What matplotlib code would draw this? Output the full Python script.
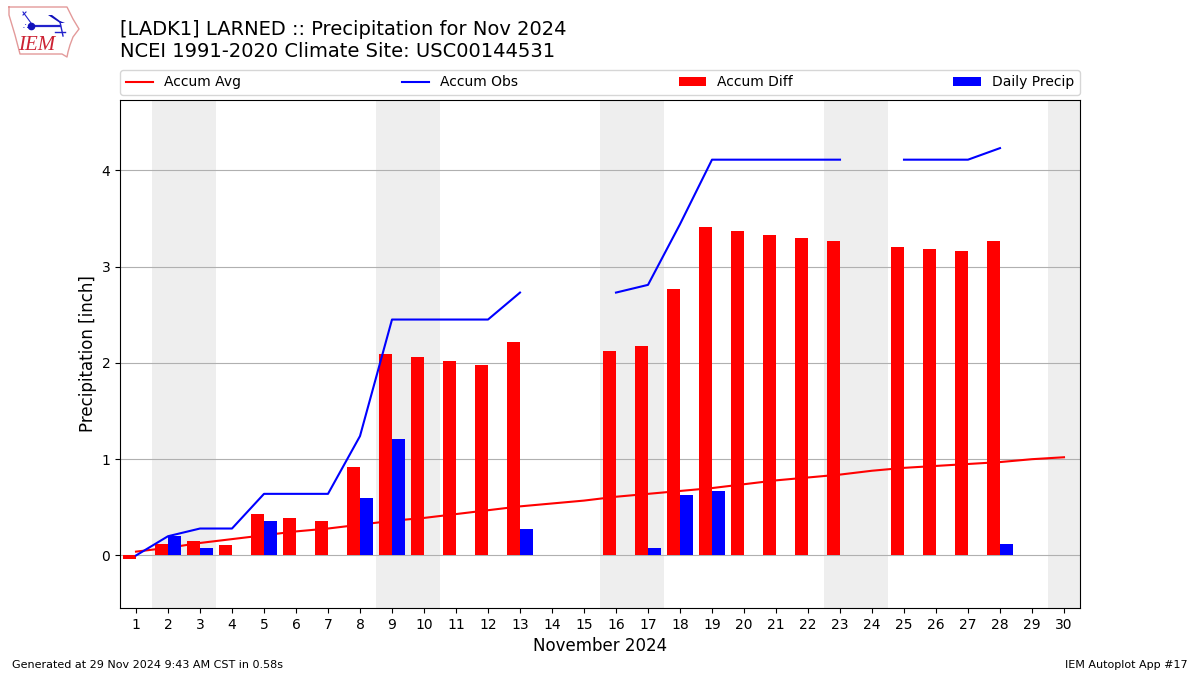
import matplotlib
matplotlib.use('Agg')
import matplotlib.pyplot as plt
import numpy as np

nan = np.nan
days = list(range(1, 31))
accum_avg = [0.04, 0.08, 0.13, 0.17, 0.21, 0.25, 0.28, 0.32, 0.36, 0.39,
             0.43, 0.47, 0.51, 0.54, 0.57, 0.61, 0.64, 0.67, 0.70, 0.74,
             0.78, 0.81, 0.84, 0.88, 0.91, 0.93, 0.95, 0.97, 1.00, 1.02]
accum_obs = [0.0, 0.20, 0.28, 0.28, 0.64, 0.64, 0.64, 1.24, 2.45, 2.45,
             2.45, 2.45, 2.73, nan, nan, 2.73, 2.81, 3.44, 4.11, 4.11,
             4.11, 4.11, 4.11, nan, 4.11, 4.11, 4.11, 4.23, nan, nan]
accum_diff = [-0.04, 0.12, 0.15, 0.11, 0.43, 0.39, 0.36, 0.92, 2.09, 2.06,
              2.02, 1.98, 2.22, nan, nan, 2.12, 2.18, 2.77, 3.41, 3.37,
              3.33, 3.30, 3.27, nan, 3.20, 3.18, 3.16, 3.27, nan, nan]
daily = [0, 0.20, 0.08, 0, 0.36, 0, 0, 0.60, 1.21, 0,
         0, 0, 0.28, nan, nan, 0, 0.08, 0.63, 0.67, 0,
         0, 0, 0, nan, 0, 0, 0, 0.12, nan, nan]
weekends = [(1.5, 3.5), (8.5, 10.5), (15.5, 17.5), (22.5, 24.5), (29.5, 30.5)]

# logo outline, in figure pixels
state_x = [9, 67, 73, 79, 73, 70, 68, 67, 62, 20, 15, 9, 9]
state_y = [7, 7, 19, 29, 37, 45, 52, 57, 54, 54, 35, 15, 7]


def add_logo(fig):
    W, H = 1200., 675.
    ax = fig.add_axes([0, 0, 1, 1], zorder=5)
    ax.set_xlim(0, W)
    ax.set_ylim(H, 0)
    ax.axis('off')
    ax.patch.set_alpha(0)
    ax.plot(state_x, state_y, color='#e39a9a', lw=1)
    # station glyph
    ax.plot([31, 60], [26, 26], color='#2222cc', lw=1.6)
    ax.plot([31], [26], 'o', color='#1111bb', ms=4.5)
    ax.plot([60, 63], [22, 36], color='#2222cc', lw=1)
    ax.fill([48, 52, 60, 65, 60], [15, 15, 21, 23, 23], color='#1111bb', lw=0)
    ax.plot([31, 23], [23, 12], color='#2222cc', lw=0.8)
    ax.plot([23, 26], [15, 12], color='#2222cc', lw=0.8)
    ax.text(25, 27, '\u2234', color='#2222cc', fontsize=6, ha='center', va='center')
    ax.plot([55, 65], [32, 32], color='#2222cc', lw=1)
    ax.text(37, 45, 'IEM', color='#cc2233', fontsize=15, style='italic',
            family='Liberation Serif', ha='center', va='center')


fig = plt.figure(figsize=(12, 6.75), dpi=100)
ax = fig.add_axes([0.1, 0.0993, 0.8, 0.7526])

for start, end in weekends:
    ax.axvspan(start, end, color='#eeeeee', lw=0, zorder=0)

x = np.array(days)
ax.plot(x, accum_avg, color='r', lw=1.5, label='Accum Avg', zorder=2)
ax.bar(x - 0.2, accum_diff, width=0.4, color='r', label='Accum Diff', zorder=3)
ax.bar(x + 0.2, daily, width=0.4, color='b', label='Daily Precip', zorder=3)
ax.plot(x, accum_obs, color='b', lw=1.5, label='Accum Obs', zorder=4)

ax.set_xlim(0.5, 30.5)
ax.set_ylim(-0.545, 4.73)
ax.set_xticks(days)
ax.set_yticks([0, 1, 2, 3, 4])
ax.yaxis.grid(True, color='#b0b0b0', lw=0.8)
ax.set_axisbelow(True)
ax.set_xlabel('November 2024', fontsize=12)
ax.set_ylabel('Precipitation [inch]', fontsize=12, labelpad=3)

h, l = ax.get_legend_handles_labels()
order = [l.index(n) for n in ['Accum Avg', 'Accum Obs', 'Accum Diff', 'Daily Precip']]
ax.legend([h[i] for i in order], [l[i] for i in order], ncol=4, mode='expand',
          loc='lower left', bbox_to_anchor=(0, 1.0098, 1, 0.102), borderaxespad=0,
          fontsize=10)

fig.text(0.1, 0.91, '[LADK1] LARNED :: Precipitation for Nov 2024\n'
         'NCEI 1991-2020 Climate Site: USC00144531', fontsize=14, ha='left', va='bottom')
fig.text(0.01, 0.01, 'Generated at 29 Nov 2024 9:43 AM CST in 0.58s', fontsize=8)
fig.text(0.99, 0.01, 'IEM Autoplot App #17', fontsize=8, ha='right')

add_logo(fig)
fig.savefig('out.png', dpi=100)
